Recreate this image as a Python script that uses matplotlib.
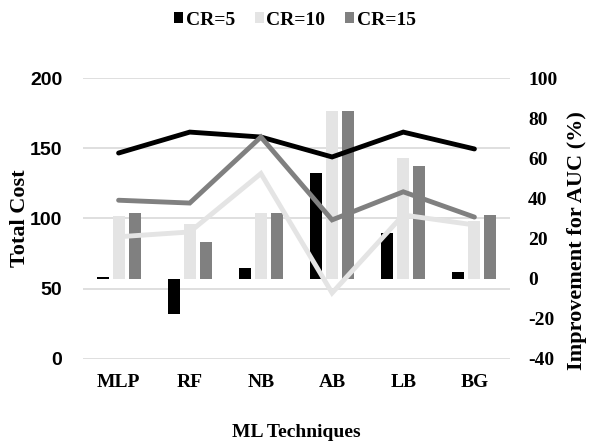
import matplotlib
matplotlib.use("Agg")
import matplotlib.pyplot as plt
import numpy as np

# ML techniques compared
categories = ["MLP", "RF", "NB", "AB", "LB", "BG"]
series_names = ["CR=5", "CR=10", "CR=15"]

# Improvement for AUC (%) -- bars, right axis
auc_cr5 = [1.0, -17.5, 5.5, 52.8, 23.0, 3.5]
auc_cr10 = [31.4, 27.4, 32.9, 83.7, 60.3, 28.9]
auc_cr15 = [32.9, 18.4, 32.9, 83.7, 56.3, 31.9]

# Total cost -- lines, left axis
cost_cr5 = [146.6, 161.5, 158.0, 143.8, 161.5, 149.5]
cost_cr10 = [87.0, 90.4, 132.0, 47.0, 102.5, 95.4]
cost_cr15 = [113.0, 111.0, 158.0, 99.0, 119.0, 101.0]

left_ticks = [0, 50, 100, 150, 200]
right_ticks = [-40, -20, 0, 20, 40, 60, 80, 100]

colors = ["#000000", "#e4e4e4", "#808080"]

serif = ["Liberation Serif", "DejaVu Serif"]
narrow = ["Liberation Sans Narrow", "Liberation Sans", "DejaVu Sans"]

fig = plt.figure(figsize=(5.9, 4.45), dpi=100)
ax = fig.add_axes([0.1407, 0.1933, 0.7237, 0.6314])
ax2 = ax.twinx()

x = np.arange(len(categories))
offsets = [-0.225, 0.0, 0.225]
width = 0.17

for vals, off, col, name in zip([auc_cr5, auc_cr10, auc_cr15], offsets, colors, series_names):
    ax2.bar(x + off, vals, width=width, color=col, label=name, zorder=2)

# cost lines drawn above the bars, in left-axis coordinates
for vals, col in zip([cost_cr5, cost_cr10, cost_cr15], colors):
    ax2.plot(x, vals, color=col, lw=3.5, transform=ax.transData, zorder=3,
             solid_capstyle="round", solid_joinstyle="miter")

ax.set_xlim(-0.5, len(categories) - 0.5)
ax.set_ylim(0, 200)
ax2.set_ylim(-40, 100)

ax.set_yticks(left_ticks)
ax2.set_yticks(right_ticks)
ax.set_xticks(x)
ax.set_xticklabels(categories, fontfamily=serif, fontweight="bold", fontsize=14)
ax.set_yticklabels([str(t) for t in left_ticks], fontfamily=narrow, fontweight="bold", fontsize=14)
ax2.set_yticklabels([str(t) for t in right_ticks], fontfamily=serif, fontweight="bold", fontsize=14)

ax.tick_params(axis="both", length=0)
ax.tick_params(axis="y", pad=15)
ax.tick_params(axis="x", pad=11)
ax2.tick_params(axis="y", length=0, pad=13)

ax.grid(axis="y", color="#d9d9d9", lw=1.2)
ax.set_axisbelow(True)
for a in (ax, ax2):
    for s in a.spines.values():
        s.set_visible(False)

ax.set_ylabel("Total Cost", fontfamily=serif, fontweight="bold", fontsize=16)
ax.yaxis.set_label_coords(-0.125, 0.5)
ax2.set_ylabel("Improvement for AUC (%)", fontfamily=serif, fontweight="bold", fontsize=16)
ax2.yaxis.set_label_coords(1.133, 0.423)
ax.set_xlabel("ML Techniques", fontfamily=serif, fontweight="bold", fontsize=14)
ax.xaxis.set_label_coords(0.5, -0.232)

handles, labels = ax2.get_legend_handles_labels()
fig.legend(handles, labels, loc="center", bbox_to_anchor=(0.5, 0.955), ncol=3, frameon=False,
           prop={"family": serif, "weight": "bold", "size": 14},
           handlelength=0.45, handleheight=0.45, handletextpad=0.15, columnspacing=1.0)

fig.savefig("out.png", dpi=100)
